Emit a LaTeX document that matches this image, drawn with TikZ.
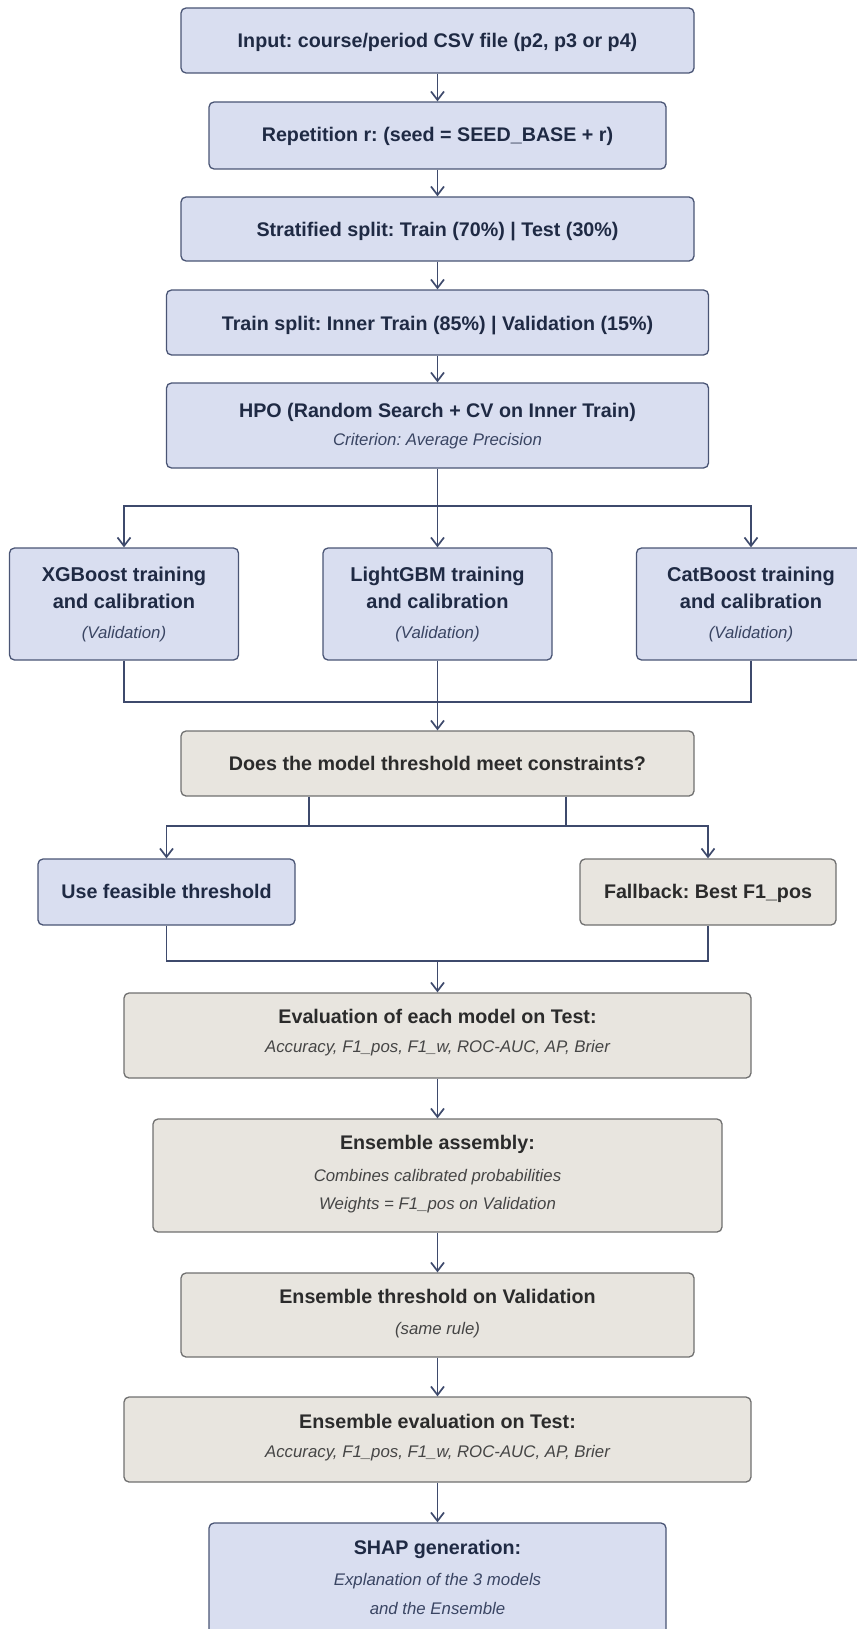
\documentclass[tikz,border=0pt]{standalone}
\usepackage{fontspec}
\setmainfont{Liberation Sans}
\usetikzlibrary{arrows.meta}
\frenchspacing

\definecolor{bluefill}{HTML}{D9DEF0}
\definecolor{bluedraw}{HTML}{4A5575}
\definecolor{bluetext}{HTML}{1F2A44}
\definecolor{bluesub}{HTML}{3A4563}
\definecolor{tanfill}{HTML}{E8E5DF}
\definecolor{tandraw}{HTML}{707070}
\definecolor{tantext}{HTML}{2B2B2B}
\definecolor{tansub}{HTML}{454545}
\definecolor{wire}{HTML}{3E4A6C}

\tikzset{
  boxbase/.style={rectangle, rounded corners=5pt, line width=1.3pt, inner sep=0pt},
  bluebox/.style={boxbase, draw=bluedraw, fill=bluefill},
  tanbox/.style={boxbase, draw=tandraw, fill=tanfill},
  ttl/.style={anchor=base, inner sep=0pt, font=\fontsize{19.7pt}{23pt}\selectfont\bfseries},
  bigttl/.style={anchor=base, inner sep=0pt, font=\fontsize{20pt}{24pt}\selectfont\bfseries},
  sub/.style={anchor=base, inner sep=0pt, font=\fontsize{16.8pt}{20pt}\selectfont\itshape},
  wireline/.style={draw=wire, line width=1.8pt},
  arr/.style={wireline, -{Straight Barb[length=8.5pt,width=13pt,line width=1.7pt]}},
}

\begin{document}
\begin{tikzpicture}[x=1pt, y=-1pt]
\useasboundingbox (0,0) rectangle (856,1629);

% ---- pipeline head ----
\node[bluebox, minimum width=513pt, minimum height=65pt] (inp) at (437.5,40.5) {};
\node[ttl, text=bluetext] (inp-t) at (437.5,47.5) {Input: course/period CSV file (p2, p3 or p4)};

\node[bluebox, minimum width=457pt, minimum height=67pt] (rep) at (437.5,135.5) {};
\node[ttl, text=bluetext] (rep-t) at (437.5,142) {Repetition r: (seed = SEED\_BASE + r)};

\node[bluebox, minimum width=513pt, minimum height=64pt] (split) at (437.5,229) {};
\node[ttl, text=bluetext] (split-t) at (437.5,236.6) {Stratified split: Train (70\%) | Test (30\%)};

\node[bluebox, minimum width=542pt, minimum height=65pt] (inner) at (437.5,322.5) {};
\node[ttl, text=bluetext] (inner-t) at (437.5,330) {Train split: Inner Train (85\%) | Validation (15\%)};

\node[bluebox, minimum width=542pt, minimum height=85pt] (hpo) at (437.5,425.5) {};
\node[ttl, text=bluetext] (hpo-t) at (437.5,417.3) {HPO (Random Search + CV on Inner Train)};
\node[sub, text=bluesub] (hpo-s) at (437.5,445.4) {Criterion: Average Precision};

% ---- the three models ----
\node[bluebox, minimum width=229pt, minimum height=112pt] (xgb) at (124,604) {};
\node[bigttl, text=bluetext] (xgb-t1) at (124,581.7) {XGBoost training};
\node[bigttl, text=bluetext] (xgb-t2) at (124,608.7) {and calibration};
\node[sub, text=bluesub] (xgb-s) at (124,638.6) {(Validation)};

\node[bluebox, minimum width=229pt, minimum height=112pt] (lgbm) at (437.5,604) {};
\node[bigttl, text=bluetext] (lgbm-t1) at (437.5,581.7) {LightGBM training};
\node[bigttl, text=bluetext] (lgbm-t2) at (437.5,608.7) {and calibration};
\node[sub, text=bluesub] (lgbm-s) at (437.5,638.6) {(Validation)};

\node[bluebox, minimum width=229pt, minimum height=112pt] (cat) at (751,604) {};
\node[bigttl, text=bluetext] (cat-t1) at (751,581.7) {CatBoost training};
\node[bigttl, text=bluetext] (cat-t2) at (751,608.7) {and calibration};
\node[sub, text=bluesub] (cat-s) at (751,638.6) {(Validation)};

% ---- threshold decision ----
\node[tanbox, minimum width=513pt, minimum height=65pt] (dec) at (437.5,763.5) {};
\node[ttl, text=tantext] (dec-t) at (437.5,770.5) {Does the model threshold meet constraints?};

\node[bluebox, minimum width=257pt, minimum height=66pt] (feas) at (166.5,892) {};
\node[ttl, text=bluetext] (feas-t) at (166.5,898.3) {Use feasible threshold};

\node[tanbox, minimum width=256pt, minimum height=66pt] (fall) at (708,892) {};
\node[ttl, text=tantext] (fall-t) at (708,898.3) {Fallback: Best F1\_pos};

% ---- evaluation and ensemble ----
\node[tanbox, minimum width=627pt, minimum height=85pt] (evalm) at (437.5,1035.5) {};
\node[ttl, text=tantext] (evalm-t) at (437.5,1023) {Evaluation of each model on Test:};
\node[sub, text=tansub] (evalm-s) at (437.5,1052) {Accuracy, F1\_pos, F1\_w, ROC-AUC, AP, Brier};

\node[tanbox, minimum width=569pt, minimum height=113pt] (asm) at (437.5,1175.5) {};
\node[ttl, text=tantext] (asm-t) at (437.5,1149.7) {Ensemble assembly:};
\node[sub, text=tansub] (asm-s1) at (437.5,1181) {Combines calibrated probabilities};
\node[sub, text=tansub] (asm-s2) at (437.5,1209) {Weights = F1\_pos on Validation};

\node[tanbox, minimum width=513pt, minimum height=84pt] (ensthr) at (437.5,1315) {};
\node[ttl, text=tantext] (ensthr-t) at (437.5,1303.4) {Ensemble threshold on Validation};
\node[sub, text=tansub] (ensthr-s) at (437.5,1334.6) {(same rule)};

\node[tanbox, minimum width=627pt, minimum height=85pt] (enseval) at (437.5,1439.5) {};
\node[ttl, text=tantext] (enseval-t) at (437.5,1428) {Ensemble evaluation on Test:};
\node[sub, text=tansub] (enseval-s) at (437.5,1457.2) {Accuracy, F1\_pos, F1\_w, ROC-AUC, AP, Brier};

\node[bluebox, minimum width=457pt, minimum height=114pt] (shap) at (437.5,1580) {};
\node[ttl, text=bluetext] (shap-t) at (437.5,1554.8) {SHAP generation:};
\node[sub, text=bluesub] (shap-s1) at (437.5,1585) {Explanation of the 3 models};
\node[sub, text=bluesub] (shap-s2) at (437.5,1614) {and the Ensemble};

% ---- connectors ----
\draw[arr] (inp) -- (rep);
\draw[arr] (rep) -- (split);
\draw[arr] (split) -- (inner);
\draw[arr] (inner) -- (hpo);

\coordinate (fork1) at (437.5,506);
\draw[arr] (hpo) -- (lgbm);
\draw[arr] (fork1) -| (xgb.north);
\draw[arr] (fork1) -| (cat.north);

\coordinate (join1) at (437.5,702);
\draw[wireline] (xgb.south) |- (join1);
\draw[wireline] (cat.south) |- (join1);
\draw[arr] (lgbm) -- (dec);

\coordinate (decL) at ([xshift=-128.5pt]dec.south);
\coordinate (decR) at ([xshift=128.5pt]dec.south);
\coordinate (fork2) at (437.5,826);
\draw[wireline] (decL) -- (decL |- fork2);
\draw[wireline] (decR) -- (decR |- fork2);
\draw[arr] (fork2) -| (feas.north);
\draw[arr] (fork2) -| (fall.north);

\coordinate (join2) at (437.5,961);
\draw[wireline] (feas.south) |- (join2);
\draw[wireline] (fall.south) |- (join2);
\draw[arr] (join2) -- (evalm);

\draw[arr] (evalm) -- (asm);
\draw[arr] (asm) -- (ensthr);
\draw[arr] (ensthr) -- (enseval);
\draw[arr] (enseval) -- (shap);
\end{tikzpicture}
\end{document}
